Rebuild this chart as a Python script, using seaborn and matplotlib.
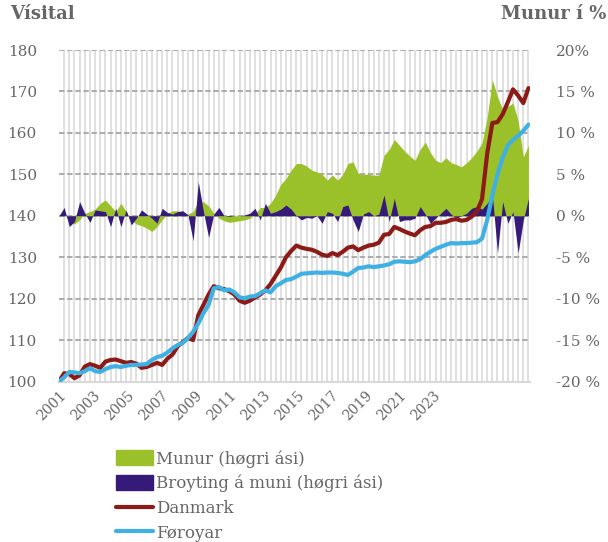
import numpy as np
import pandas as pd
import matplotlib.pyplot as plt
import seaborn as sns
from matplotlib.patches import Patch
from matplotlib.lines import Line2D

# quarterly values, 2001Q1 - 2023Q4
danmark = [100, 102, 101.8, 100.8, 101.5, 103.6, 104.2, 103.8, 103.3, 104.8,
           105.2, 105.3, 104.9, 104.5, 104.7, 104.3, 103.3, 103.5, 104.0, 104.5,
           104.0, 105.5, 106.5, 108.5, 109.5, 110.5, 110.0, 116.0, 118.5, 121.0,
           123.0, 122.5, 122.3, 121.8, 121.0, 119.5, 119.0, 119.5, 120.3, 121.0,
           122.0, 123.5, 125.5, 127.5, 130.0, 131.5, 132.8, 132.3, 132.0, 131.8,
           131.3, 130.6, 130.3, 131.0, 130.5, 131.3, 132.3, 132.6, 131.7, 132.3,
           132.8, 133.0, 133.5, 135.4, 135.6, 137.3, 136.8, 136.2, 135.7, 135.3,
           136.5, 137.3, 137.5, 138.3, 138.3, 138.5, 139.0, 139.2, 138.8, 139.0,
           139.8, 141.0, 144.0, 155.0, 162.4, 162.6, 164.5, 167.4, 170.5, 169.0,
           167.2, 170.8]
foroyar = [100, 101, 102.3, 102.2, 102.0, 102.5, 103.2, 102.5, 102.3, 103.0,
           103.5, 103.7, 103.5, 103.8, 104.0, 104.0, 104.1, 104.2, 105.2, 105.9,
           106.2, 107.0, 108.0, 108.8, 109.3, 110.5, 112.0, 114.0, 116.5, 118.5,
           122.5, 122.8, 122.0, 122.2, 121.5, 120.3, 120.1, 120.5, 120.6, 121.3,
           122.0, 121.5, 123.0, 123.7, 124.5, 124.7, 125.3, 126.0, 126.1, 126.2,
           126.3, 126.2, 126.3, 126.3, 126.2, 126.0, 125.7, 126.5, 127.4, 127.5,
           127.8, 127.6, 127.8, 128.0, 128.3, 128.9, 129.0, 128.9, 128.8, 129.0,
           129.5, 130.5, 131.3, 132.0, 132.5, 133.0, 133.4, 133.3, 133.4, 133.4,
           133.5, 133.6, 134.5, 139.0, 145.0, 150.0, 154.0, 157.0, 158.3, 159.3,
           160.5, 162.0]
munur = [0, 0.3, -0.8, -1.0, -0.5, 0.3, 0.5, 0.8, 1.5, 1.9,
         1.2, 0.5, 1.5, 0.5, -0.5, -1.0, -1.2, -1.5, -1.9, -1.3,
         -0.5, 0.3, 0.6, 0.6, 0.4, 0.2, 0.5, 1.7, 1.7, 1.2,
         0.3, -0.3, -0.6, -0.8, -0.7, -0.6, -0.5, -0.3, 0.2, 1.0,
         1.0, 1.5, 2.5, 3.8, 4.5, 5.5, 6.3, 6.3, 6.0, 5.5,
         5.3, 5.0, 4.3, 4.9, 4.3, 5.0, 6.3, 6.5, 5.1, 5.0,
         5.0, 4.9, 4.9, 7.3, 8.0, 9.2, 8.5, 7.8, 7.2, 6.7,
         8.0, 8.9, 7.6, 6.7, 6.4, 7.0, 6.4, 6.2, 5.9, 6.4,
         7.0, 7.8, 8.8, 11.9, 16.4, 14.4, 12.8, 13.2, 13.6, 11.5,
         7.1, 8.5]
broyting = [0, 1.0, -1.3, -0.7, 1.7, 0.3, -0.8, 0.7, 0.6, 0.5,
            -1.3, 0.9, -1.3, 0.7, -1.1, -0.3, 0.7, 0.2, -0.3, -0.9,
            0.9, 0.4, 0.2, 0.5, 0.6, 0.1, -3.0, 4.1, 0.5, -2.6,
            0.2, 1.0, 0.0, -0.1, 0.0, 0.0, 0.1, 0.3, 0.9, -0.5,
            1.5, 0.3, 0.5, 0.8, 1.3, 0.8, 0.0, -0.5, -0.2, -0.3,
            0.0, -0.9, 0.5, 0.3, -0.7, 1.1, 1.3, -0.5, -1.9, 0.2,
            0.5, 0.0, 0.2, 2.5, -0.7, 2.1, -0.7, -0.5, -0.5, -0.3,
            1.1, 0.2, -0.9, -0.3, 0.3, 0.9, 0.2, -0.3, 0.0, 0.3,
            0.9, 1.1, 0.8, 1.5, 2.5, -4.5, 1.7, -0.9, 0.5, -4.5,
            -0.5, 2.1]
year_labels = [str(y) for y in range(2001, 2024, 2)]

df = pd.DataFrame({'i': np.arange(len(danmark)), 'Danmark': danmark, 'Føroyar': foroyar,
                   'munur': munur, 'broyting': broyting})


# right axis (%) <-> left axis (index): 0 % sits at 140, 1 % = 2 index points
def pct_to_idx(p):
    return 140 + 2 * np.asarray(p)


def idx_to_pct(v):
    return (np.asarray(v) - 140) / 2


sns.set_theme(style="white")
plt.rcParams['font.family'] = ['DejaVu Serif', 'DejaVu Sans']
grey = '#666666'
green = '#9bc12a'
purple = '#351a7a'
red = '#8c1a17'
blue = '#3eb0e4'

fig = plt.figure(figsize=(6.08, 5.42), dpi=100)
ax = fig.add_axes([59/608, 1-381.5/542, 471/608, 331.5/542])

ax.fill_between(df['i'], 140, pct_to_idx(df['munur']), color=green, lw=0, zorder=2)
ax.fill_between(df['i'], 140, pct_to_idx(df['broyting']), color=purple, lw=0, zorder=2)
sns.lineplot(x='i', y='Danmark', data=df, ax=ax, color=red, lw=3, legend=False, zorder=3)
sns.lineplot(x='i', y='Føroyar', data=df, ax=ax, color=blue, lw=3, legend=False, zorder=3)
ax.set_xlabel('')
ax.set_ylabel('')

ax.set_ylim(100, 180)
ax.set_yticks(np.arange(100, 181, 10))
ax.set_yticklabels([str(v) for v in range(100, 181, 10)], color=grey, fontsize=11)
ax.tick_params(axis='y', length=0, pad=16)
ax.grid(axis='y', which='major', color='#a6a6a6', lw=1.3, ls=(0, (3, 1.5)))

sec = ax.secondary_yaxis('right', functions=(idx_to_pct, pct_to_idx))
sec.set_yticks(np.arange(-20, 21, 5))
sec.set_yticklabels(['-20 %', '-15 %', '-10 %', '-5 %', '0 %', '5 %', '10 %', '15 %', '20%'],
                    color=grey, fontsize=11)
sec.tick_params(axis='y', length=0, pad=19)
for s in sec.spines.values():
    s.set_visible(False)

# x axis: one grid line per quarter, slanted year labels every other year
ax.set_xlim(0, len(danmark) - 0.7)
ax.set_xticks(np.arange(len(danmark)), minor=True)
ax.grid(axis='x', which='minor', color='#dadada', lw=1.2)
ax.set_axisbelow(True)
ticks = np.linspace(0, 72.6, len(year_labels))
ax.set_xticks(ticks)
ax.tick_params(axis='x', which='both', length=0, labelbottom=False)
for t, lab in zip(ticks, year_labels):
    ax.text(t, -0.02, lab, transform=ax.get_xaxis_transform(), rotation=45,
            ha='right', va='top', rotation_mode='anchor', color=grey, fontsize=10)

for s in ax.spines.values():
    s.set_visible(False)
ax.spines['bottom'].set_visible(True)
ax.spines['bottom'].set_color('#d9d9d9')
ax.spines['bottom'].set_linewidth(1.5)

fig.text(10/608, 1-14/542, 'Vísital', fontsize=13, fontweight='bold', color=grey, va='center')
fig.text(606/608, 1-14/542, 'Munur í %', fontsize=13, fontweight='bold', color=grey,
         va='center', ha='right')

handles = [Patch(color=green), Patch(color=purple),
           Line2D([], [], color=red, lw=3), Line2D([], [], color=blue, lw=3)]
labels = ['Munur (høgri ási)', 'Broyting á muni (høgri ási)', 'Danmark', 'Føroyar']
fig.legend(handles, labels, loc='upper left', bbox_to_anchor=(116/608, 1-450/542),
           frameon=False, fontsize=12, handlelength=2.2, handleheight=1.0,
           handletextpad=0.2, labelspacing=0.45, borderpad=0, borderaxespad=0,
           labelcolor=grey)

fig.savefig('out.png', dpi=100)
